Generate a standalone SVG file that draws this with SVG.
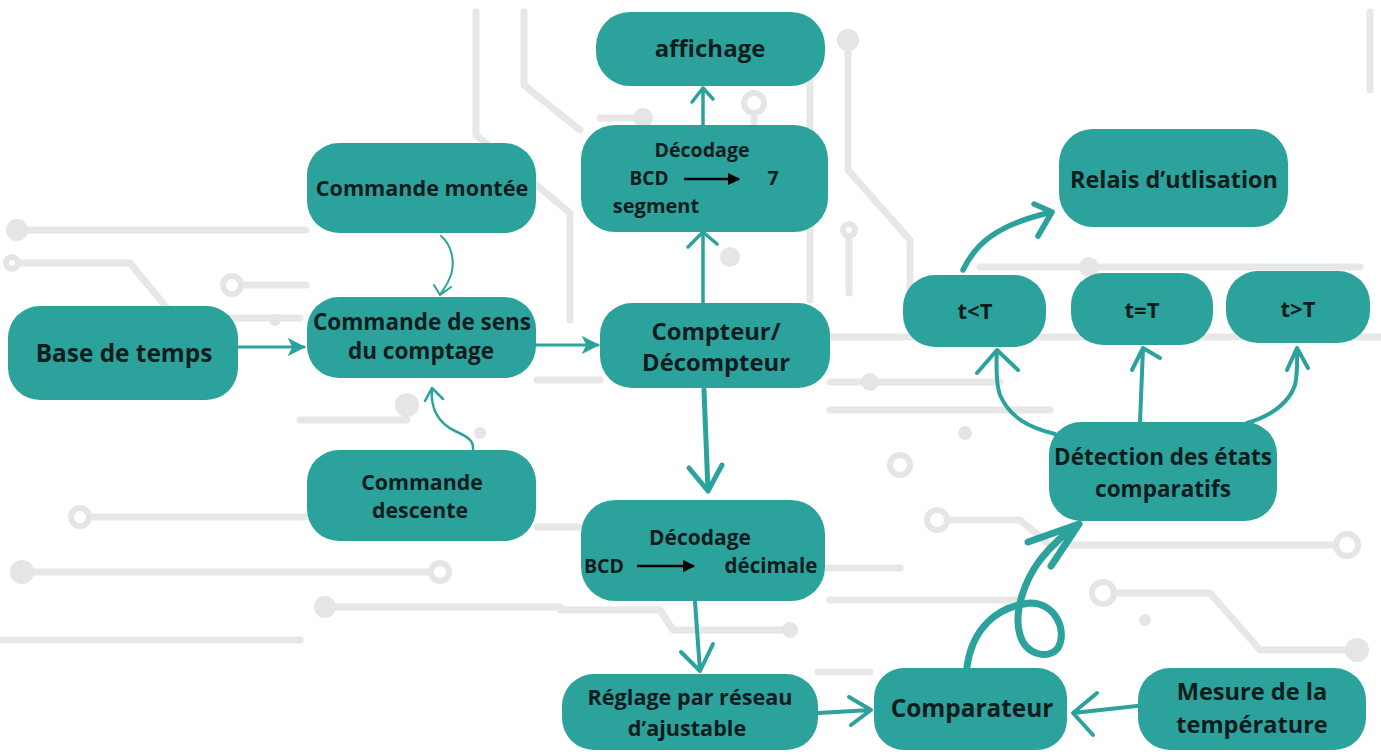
<svg xmlns="http://www.w3.org/2000/svg" width="1381" height="756" viewBox="0 0 1381 756">
<defs>
<style>
.trace{fill:none;stroke:#e7e7e7;stroke-width:7;stroke-linecap:round;stroke-linejoin:round}
.dot{fill:#e5e5e5}
.ring{fill:#fff;stroke:#e5e5e5;stroke-width:6}
.box{fill:#2ca29c}
.lbl{font-family:"Open Sans","Liberation Sans",sans-serif;font-weight:700;fill:#0d1c1c;text-anchor:middle}
.c{fill:none;stroke:#2ca29c;stroke-linecap:round;stroke-linejoin:round}
</style>
<marker id="tri" viewBox="0 0 10 10" refX="9" refY="5" markerWidth="6" markerHeight="6" orient="auto" markerUnits="strokeWidth">
<path d="M0,0 L10,5 L0,10 L2.5,5 z" fill="#2ca29c"/>
</marker>
<marker id="blk" viewBox="0 0 10 10" refX="9" refY="5" markerWidth="5" markerHeight="5" orient="auto" markerUnits="strokeWidth">
<path d="M0,0 L10,5 L0,10 z" fill="#000"/>
</marker>
</defs>
<rect width="1381" height="756" fill="#fff"/>
<g id="background">
<path class="trace" d="M17,230 H306"/>
<path class="trace" d="M18,263 H130 L175,318 H300"/>
<path class="trace" d="M241,285 H306"/>
<path class="trace" d="M476,12 V135 L570,213 V320"/>
<path class="trace" d="M524,12 V85 L580,130"/>
<path class="trace" d="M643,118 H600"/>
<path class="trace" d="M754,103 V125"/>
<path class="trace" d="M810,30 V300"/>
<path class="trace" d="M848,40 V170 L910,240 V300"/>
<path class="trace" d="M849,230 V293"/>
<path class="trace" d="M980,267 H1360"/>
<path class="trace" d="M690,337 H1381"/>
<path class="trace" d="M830,382 H1000"/>
<path class="trace" d="M830,410 H1050"/>
<path class="trace" d="M937,520 H1020 L1050,545 H1347"/>
<path class="trace" d="M1103,593 H1210 L1260,650 H1357"/>
<path class="trace" d="M830,600 H1020"/>
<path class="trace" d="M300,420 H407"/>
<path class="trace" d="M537,380 H600"/>
<path class="trace" d="M80,517 H306"/>
<path class="trace" d="M22,572 H430"/>
<path class="trace" d="M325,607 H560"/>
<path class="trace" d="M560,610 H660 L673,630 H790"/>
<path class="trace" d="M537,527 H580"/>
<path class="trace" d="M825,568 H900"/>
<path class="trace" d="M818,672 H870"/>
<path class="trace" d="M0,640 H300"/>
<path class="trace" d="M1370,12 V90"/>
<circle class="dot" cx="17" cy="230" r="11"/>
<circle class="ring" cx="12" cy="263" r="6"/>
<circle class="ring" cx="232" cy="285" r="9"/>
<circle class="dot" cx="275" cy="320" r="6"/>
<circle class="dot" cx="643" cy="118" r="10"/>
<circle class="ring" cx="754" cy="103" r="10"/>
<circle class="dot" cx="848" cy="40" r="11"/>
<circle class="ring" cx="849" cy="230" r="6"/>
<circle class="dot" cx="730" cy="257" r="10"/>
<circle class="dot" cx="1089" cy="267" r="10"/>
<circle class="dot" cx="870" cy="382" r="9"/>
<circle class="dot" cx="965" cy="433" r="7"/>
<circle class="ring" cx="937" cy="520" r="10"/>
<circle class="ring" cx="1103" cy="593" r="11"/>
<circle class="ring" cx="1347" cy="545" r="11"/>
<circle class="dot" cx="1357" cy="650" r="12"/>
<circle class="dot" cx="1145" cy="620" r="6"/>
<circle class="dot" cx="407" cy="405" r="12"/>
<circle class="dot" cx="480" cy="433" r="6"/>
<circle class="ring" cx="80" cy="517" r="9"/>
<circle class="dot" cx="22" cy="572" r="12"/>
<circle class="ring" cx="440" cy="572" r="9"/>
<circle class="dot" cx="325" cy="607" r="11"/>
<circle class="dot" cx="790" cy="630" r="8"/>
<circle class="ring" cx="900" cy="465" r="10"/>
<circle class="ring" cx="1347" cy="700" r="10"/>
</g>
<g id="connectors">
<path class="c" stroke-width="3" d="M238,347 H304" marker-end="url(#tri)"/>
<path class="c" stroke-width="3" d="M536,345 H598" marker-end="url(#tri)"/>
<path class="c" stroke-width="2" d="M441,236 C452,245 455,262 451,275 C447,286 443,290 440,295 M434,285 L440,295 L451,287"/>
<path class="c" stroke-width="2.5" d="M473,449 C474,440 466,436 455,431 C440,424 430,410 432,388 M425,401 L432,388 L443,399"/>
<path class="c" stroke-width="3.5" d="M703,303 V232 M688,247 L703,232 L717,244"/>
<path class="c" stroke-width="3.5" d="M703,125 V88 M692,102 L703,88 L713,99"/>
<path class="c" stroke-width="5" d="M704,390 L708,491 M689,468 L708,491 L722,465"/>
<path class="c" stroke-width="4" d="M695,602 L700,671 M681,652 L700,671 L713,644"/>
<path class="c" stroke-width="4" d="M818,713 L871,710 M849,697 L871,710 L851,725"/>
<path class="c" stroke-width="4" d="M1137,706 L1073,713 M1097,693 L1073,713 L1093,735"/>
<path class="c" stroke-width="7" d="M967,667 C972,630 995,607 1030,603 C1055,603 1068,630 1058,648 C1048,660 1026,655 1020,635 C1013,612 1025,580 1040,560 C1052,545 1065,533 1079,524 M1028,542 L1079,524 L1051,566"/>
<path class="c" stroke-width="4" d="M1055,434 C1030,428 1010,418 1000,395 C996,384 996,368 997,350 M977,373 L997,350 L1018,370"/>
<path class="c" stroke-width="4" d="M1140,422 L1143,348 M1132,370 L1143,348 L1160,358"/>
<path class="c" stroke-width="4" d="M1247,423 C1275,415 1290,400 1295,385 C1298,372 1297,360 1297,348 M1287,370 L1297,348 L1308,368"/>
<path class="c" stroke-width="5.5" d="M963,270 C975,245 995,225 1052,212 M1034,204 L1052,212 L1038,236"/>
</g>
<g id="n-affichage"><rect class="box" x="596" y="12" width="229" height="74" rx="34"/><text class="lbl" x="710" y="57" font-size="24">affichage</text></g>
<g id="n-decodage7"><rect class="box" x="581" y="125" width="247" height="107" rx="34"/>
<text class="lbl" x="702" y="157" font-size="19.6">Décodage</text>
<text class="lbl" x="649" y="185" font-size="19">BCD</text>
<path d="M684,179 H739" stroke="#000" stroke-width="2.5" marker-end="url(#blk)"/>
<text class="lbl" x="773" y="185" font-size="19.5">7</text>
<text class="lbl" x="656" y="213" font-size="20">segment</text></g>
<g id="n-montee"><rect class="box" x="307" y="143" width="229" height="90" rx="32"/><text class="lbl" x="422" y="196" font-size="21.6">Commande montée</text></g>
<g id="n-sens"><rect class="box" x="307" y="297" width="229" height="81" rx="32"/><text class="lbl" x="422" y="330" font-size="22.5">Commande de sens</text><text class="lbl" x="421" y="359" font-size="22.5">du comptage</text></g>
<g id="n-base"><rect class="box" x="8" y="306" width="230" height="94" rx="32"/><text class="lbl" x="124" y="362" font-size="24.4">Base de temps</text></g>
<g id="n-compteur"><rect class="box" x="600" y="303" width="230" height="85" rx="32"/><text class="lbl" x="716" y="340" font-size="23.8">Compteur/</text><text class="lbl" x="716" y="371" font-size="23.8">Décompteur</text></g>
<g id="n-descente"><rect class="box" x="307" y="450" width="229" height="91" rx="32"/><text class="lbl" x="422" y="490" font-size="21.3">Commande</text><text class="lbl" x="420" y="518" font-size="21.3">descente</text></g>
<g id="n-decodage10"><rect class="box" x="581" y="500" width="244" height="101" rx="34"/>
<text class="lbl" x="700" y="545" font-size="21">Décodage</text>
<text class="lbl" x="604" y="573" font-size="19.5">BCD</text>
<path d="M637,566 H694" stroke="#000" stroke-width="2.5" marker-end="url(#blk)"/>
<text class="lbl" x="771" y="573" font-size="20.5">décimale</text></g>
<g id="n-reglage"><rect class="box" x="562" y="674" width="256" height="76" rx="32"/><text class="lbl" x="690" y="705" font-size="21.6">Réglage par réseau</text><text class="lbl" x="687" y="736" font-size="21.6">d’ajustable</text></g>
<g id="n-comparateur"><rect class="box" x="874" y="668" width="193" height="82" rx="30"/><text class="lbl" x="972" y="717" font-size="24.4">Comparateur</text></g>
<g id="n-mesure"><rect class="box" x="1138" y="668" width="228" height="82" rx="32"/><text class="lbl" x="1252" y="700" font-size="23.6">Mesure de la</text><text class="lbl" x="1252" y="733" font-size="23.6">température</text></g>
<g id="n-detection"><rect class="box" x="1049" y="422" width="228" height="99" rx="32"/><text class="lbl" x="1163" y="465" font-size="22.5">Détection des états</text><text class="lbl" x="1163" y="497" font-size="22.5">comparatifs</text></g>
<g id="n-tlt"><rect class="box" x="903" y="275" width="143" height="72" rx="32"/><text class="lbl" x="975" y="319" font-size="22">t&lt;T</text></g>
<g id="n-teq"><rect class="box" x="1071" y="273" width="142" height="72" rx="32"/><text class="lbl" x="1142" y="318" font-size="22">t=T</text></g>
<g id="n-tgt"><rect class="box" x="1226" y="271" width="144" height="72" rx="32"/><text class="lbl" x="1298" y="317" font-size="22">t&gt;T</text></g>
<g id="n-relais"><rect class="box" x="1059" y="129" width="229" height="98" rx="34"/><text class="lbl" x="1174" y="188" font-size="23.4">Relais d’utlisation</text></g>
</svg>
